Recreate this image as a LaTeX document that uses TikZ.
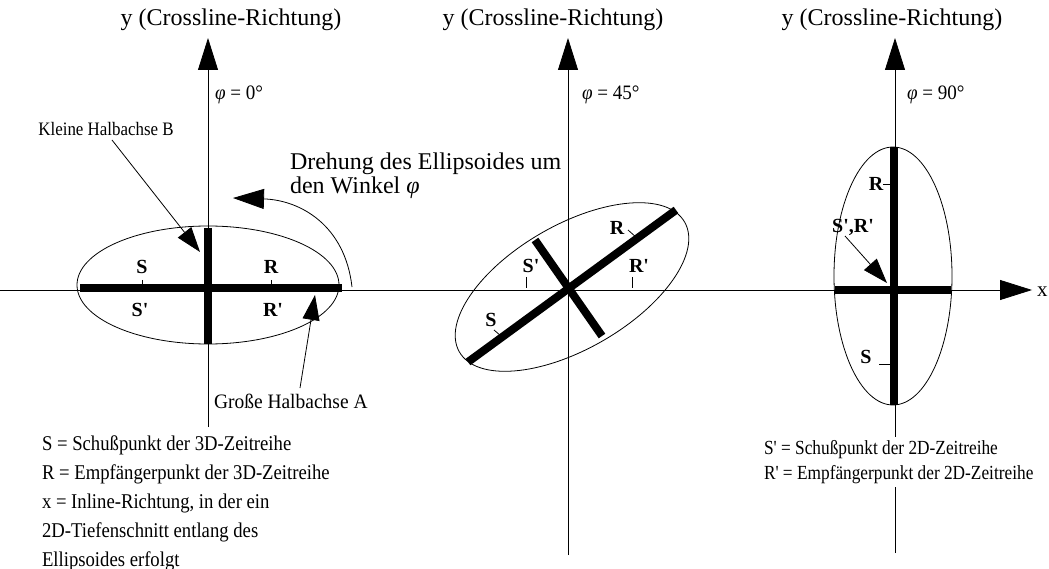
\documentclass[tikz,border=0pt]{standalone}
\usepackage{graphicx}
\usepackage{fontspec}
\setmainfont{Liberation Serif}[Ligatures=TeXOff]
\usetikzlibrary{arrows.meta}
\begin{document}
\begin{tikzpicture}[x=1pt,y=-1pt,
  font=\fontsize{19}{23}\selectfont,
  every node/.style={inner sep=0pt, outer sep=0pt},
  axisline/.style={line width=0.8pt, -{Triangle[length=32pt,width=20pt]}},
  thinline/.style={line width=0.8pt},
  bar/.style={line width=8pt},
  ptr/.style={line width=0.8pt, -{Triangle[length=25pt,width=17pt]}},
  bigptr/.style={line width=0.8pt, -{Triangle[length=31pt,width=20pt]}},
  lbl/.style={font=\bfseries\fontsize{20}{24}\selectfont},
  toplbl/.style={anchor=base, font=\fontsize{24}{28}\selectfont},
  philbl/.style={anchor=base west, font=\fontsize{20.5}{24}\selectfont},
  txt/.style={align=left}]
\fill[white] (0,0) rectangle (1049,569);
\path[use as bounding box] (0,0) rectangle (1049,569);

% axes
\coordinate (xs) at (0,290);
\coordinate (xe) at (1032,290);
\draw[axisline] (xs) -- (xe);
\node[anchor=base west, font=\fontsize{21}{24}\selectfont] (xlab) at (1037,297) {x};

\coordinate (yLs) at (208,427); \coordinate (yLe) at (208,38);
\coordinate (yMs) at (568,555); \coordinate (yMe) at (568,38);
\coordinate (yRs) at (895,553); \coordinate (yRe) at (895,38);
\draw[axisline] (yLs) -- (yLe);
\draw[axisline] (yMs) -- (yMe);
\draw[axisline] (yRs) -- (yRe);

\node[toplbl] (ylabL) at (231,26) {y (Crossline-Richtung)};
\node[toplbl] (ylabM) at (553,26) {y (Crossline-Richtung)};
\node[toplbl] (ylabR) at (892,26) {y (Crossline-Richtung)};

\node[philbl] (phiL) at (215,100) {\scalebox{0.93}[1]{\textit{φ} = 0°}};
\node[philbl] (phiM) at (582,100) {\scalebox{0.93}[1]{\textit{φ} = 45°}};
\node[philbl] (phiR) at (907,100) {\scalebox{0.93}[1]{\textit{φ} = 90°}};

% left ellipse (phi = 0)
\draw[thinline] (208,285) ellipse [x radius=131pt, y radius=59pt];
\draw[bar] (80,288) -- (342,288);
\draw[bar] (208,228) -- (208,344);
\draw[thinline] (142,280) -- (142,288);
\draw[thinline] (271,280) -- (271,288);
\node[lbl] (SL) at (142,267) {S};
\node[lbl] (RL) at (271,267) {R};
\node[lbl] (SpL) at (140,310) {S'};
\node[lbl] (RpL) at (273,310) {R'};

% middle ellipse (phi = 45)
\draw[thinline, rotate around={30:(572,287)}] (572,287) ellipse [x radius=130pt, y radius=62pt];
\draw[bar] (468,362) -- (676,210);
\draw[bar] (535,240) -- (602,336);
\draw[thinline] (526,277) -- (526,288);
\draw[thinline] (632,277) -- (632,288);
\draw[thinline] (628,230) -- (637,238);
\draw[thinline] (494,330) -- (501,336);
\node[lbl] (SpM) at (531,266) {S'};
\node[lbl] (RpM) at (639,266) {R'};
\node[lbl] (RM) at (617,228) {R};
\node[lbl] (SM) at (491,320) {S};

% right ellipse (phi = 90)
\draw[thinline] (893,276) ellipse [x radius=59pt, y radius=129pt];
\draw[bar] (835,290) -- (951,290);
\draw[bar] (894,147) -- (894,405);
\draw[thinline] (883,184) -- (894,184);
\draw[thinline] (879,364) -- (890,364);
\node[lbl] (RR) at (876,184) {R};
\node[lbl] (SR) at (866,357) {S};
\node[lbl] (SRp) at (853,227) {S',R'};
\coordinate (srTip) at (887,283);
\draw[ptr] (845,236) -- (srTip);

% annotations
\node[anchor=base, font=\fontsize{19}{22}\selectfont] (kb) at (106,136) {\scalebox{0.89}[1]{Kleine Halbachse B}};
\coordinate (kbS) at (112,140);
\coordinate (kbT) at (200,252);
\draw[ptr] (kbS) -- (kbT);

\node[anchor=base west, font=\fontsize{20.5}{24}\selectfont] (ga) at (214,408) {\scalebox{0.95}[1]{Große Halbachse A}};
\coordinate (gaS) at (300,388);
\coordinate (gaT) at (315,295);
\draw[ptr] (gaS) -- (gaT);

\node[txt, anchor=north west, font=\fontsize{24}{24}\selectfont] (dreh) at (290,153) {Drehung des Ellipsoides um\\den Winkel \textit{φ}};
\coordinate (rotS) at (352,287);
\coordinate (rotT) at (233,198);
\draw[bigptr] (rotS) .. controls (345,225) and (300,200) .. (rotT);

\node[anchor=north west, font=\fontsize{21}{29}\selectfont] (legL) at (42,430) {\scalebox{0.89}[1]{\begin{tabular}{@{}l@{}}S = Schußpunkt der 3D-Zeitreihe\\R = Empfängerpunkt der 3D-Zeitreihe\\x = Inline-Richtung, in der ein\\2D-Tiefenschnitt entlang des\\Ellipsoides erfolgt\end{tabular}}};
\node[anchor=north west, fill=white, font=\fontsize{20}{25}\selectfont] (legR) at (764,437) {\scalebox{0.865}[1]{\begin{tabular}{@{}l@{}}S' = Schußpunkt der 2D-Zeitreihe\\R' = Empfängerpunkt der 2D-Zeitreihe\end{tabular}}};
\end{tikzpicture}
\end{document}
